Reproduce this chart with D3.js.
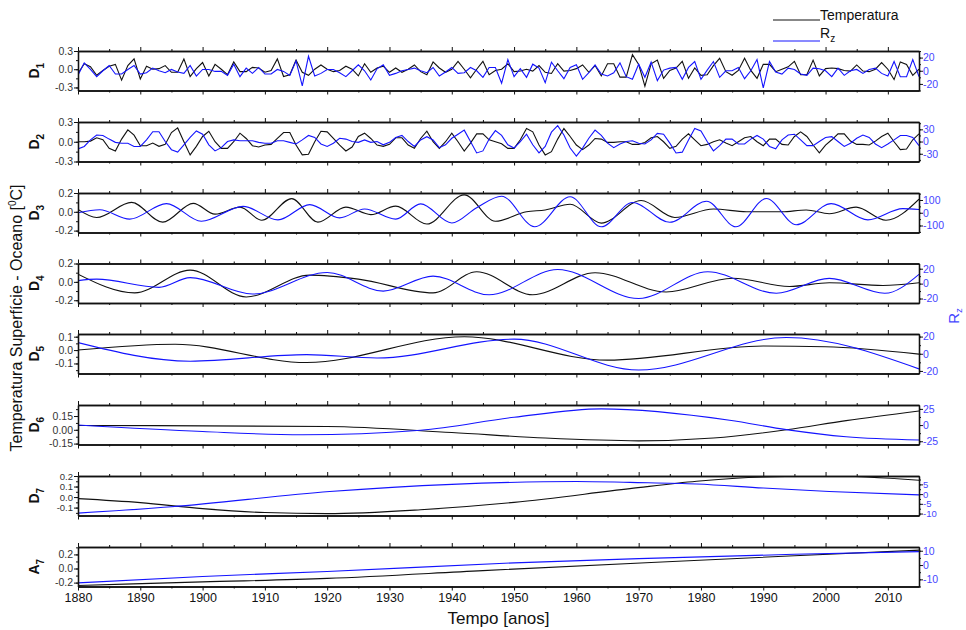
<!DOCTYPE html>
<html><head><meta charset="utf-8">
<script src="https://cdn.jsdelivr.net/npm/d3@7"></script>
<style>body{margin:0;background:#fff;} svg{display:block;font-family:"Liberation Sans",Arial,sans-serif;}</style>
</head><body><svg id="c" width="966" height="630"></svg>
<script>
// ---------- DATA ----------
const years = d3.range(1880, 2016);
const xTicks = [1880,1890,1900,1910,1920,1930,1940,1950,1960,1970,1980,1990,2000,2010];

const d1Temp = [-0.07,0.09,0.04,-0.10,-0.02,0.05,0.08,-0.18,0.06,0.17,
-0.16,0.05,0.0,0.01,0.06,-0.05,-0.05,0.17,-0.12,0.01,
0.11,-0.11,0.08,0.0,-0.09,0.12,-0.04,-0.04,0.03,0.02,
-0.05,-0.02,0.17,-0.12,-0.09,0.15,-0.05,-0.10,0.0,0.07,
0.0,-0.04,-0.02,0.05,0.0,-0.11,0.09,-0.05,0.02,0.05,
-0.05,0.02,-0.05,0.0,0.07,-0.04,-0.09,0.12,0.02,-0.05,
0.0,0.13,0.0,-0.14,0.0,0.13,-0.09,-0.02,0.0,0.09,
-0.04,-0.03,0.0,-0.03,0.06,-0.05,-0.07,0.09,-0.03,-0.02,
0.01,0.07,-0.05,0.06,-0.11,0.09,0.09,-0.13,-0.13,0.24,
0.08,-0.28,0.09,0.15,-0.15,-0.02,0.02,0.13,-0.15,0.02,
-0.10,-0.09,0.06,0.18,-0.04,-0.10,-0.02,0.18,-0.02,-0.15,
0.08,0.08,-0.04,0.0,0.04,0.13,-0.09,-0.09,0.15,-0.11,
0.01,0.02,0.01,-0.02,-0.03,0.07,-0.03,-0.04,0.0,0.11,
0.0,-0.17,0.12,0.08,-0.10,0.0];
const d1Rz = [-7,12,2,-9,0,8,-5,-5,2,8,
-5,-3,4,0,-3,2,-2,-4,8,-8,
2,2,-1,-1,-7,10,-9,4,-4,5,
-5,-5,2,-1,-7,15,-23,22,-8,-4,
2,2,-3,-9,0,9,0,-14,3,9,
-7,-4,0,2,4,0,-3,5,-8,-2,
5,-4,-3,5,0,-10,5,5,-19,17,
-9,3,-10,10,4,-18,13,0,-12,5,
9,-13,-3,9,-5,-8,-3,12,-9,-13,
10,-10,13,-15,1,4,5,-13,5,14,
-13,1,14,-10,0,0,5,-12,0,17,
-26,14,-2,-5,4,2,-5,-7,4,3,
0,-9,4,-7,0,2,-4,2,4,-4,
-8,14,-9,-9,17,-9];
const d2Temp = [0,0,0.01,0.06,0.03,-0.1,-0.14,0.04,0.18,0.1,
-0.06,-0.06,-0.02,-0.07,-0.04,0.14,0.21,0,-0.2,-0.07,
0.08,0.16,0,-0.1,-0.1,0,0.13,0.05,-0.06,-0.08,
-0.05,-0.04,0.05,0.14,0.14,-0.05,-0.2,-0.19,0,0.16,
0.15,0.05,-0.05,-0.14,-0.08,0.08,0.13,0.05,-0.05,-0.07,
-0.04,0.06,0.06,-0.05,-0.1,0.05,0.16,0,-0.1,0,
0.13,0,-0.14,-0.02,0.12,0.12,0.03,0,-0.03,-0.1,
-0.1,0.03,0.2,0.15,-0.05,-0.2,-0.15,0.04,0.2,0.08,
-0.05,-0.12,-0.05,0.05,0.04,-0.01,-0.01,0,0,-0.04,
-0.04,-0.01,0.06,0.08,0,-0.1,-0.07,0.04,0.12,0.03,
-0.06,-0.04,0,0.03,-0.02,-0.06,0,0.06,0.08,0,
-0.06,0.04,0.04,-0.04,-0.05,0.08,0.15,0.08,-0.05,-0.17,
-0.05,0.03,0.12,0.12,0.01,-0.04,-0.04,-0.05,0.01,0.08,
0.13,0,-0.12,-0.11,0.03,0.12];
const d2Rz = [-18,-12,4,16,15,6,-2,-4,-4,-12,
-12,4,24,24,0,-20,-26,-8,10,26,
18,-8,-23,-15,0,4,2,2,2,-2,
-4,-4,2,2,-2,-6,4,15,10,-6,
-12,-4,8,6,0,-2,4,-2,0,-8,
-2,10,15,0,-12,4,12,4,-15,-8,
8,18,28,0,-28,-23,6,27,15,-8,
-16,0,18,-8,-28,-12,23,39,16,-16,
-36,-16,8,28,15,-4,-15,-6,0,2,
-4,-6,4,20,18,-4,-28,-26,4,32,
26,0,-23,-10,6,6,-6,-6,6,15,
6,-12,-18,4,16,18,4,-10,-10,0,
10,12,0,-12,-4,8,16,10,-6,-15,
-6,4,15,15,10,-10];

// smooth components: key points (year, value)
const d3TempYears = [1880,1883,1888.6,1893.6,1898.5,1902,1906,1909.5,1914.3,1918.5,1923,1927,1931,1936,1942,1947,1952,1955,1959,1964,1970.4,1975.8,1982,1987.3,1993,1996.9,2000.6,2004.9,2009.7,2015];
const d3TempVals  = [0.026,-0.06,0.1,-0.11,0.09,-0.025,0.05,-0.09,0.14,-0.11,0.05,-0.03,0.06,-0.13,0.18,-0.1,0.0,0.02,0.08,-0.12,0.12,-0.06,0.03,0,0,0.02,-0.02,0.05,-0.09,0.135];
const d3RzYears = [1880,1883.5,1888.3,1894.2,1899.8,1906.5,1912.1,1917.2,1922,1926,1931,1935,1940,1944,1948,1953.3,1959,1964,1969,1975,1980.9,1985.6,1990.5,1995.3,2000.9,2006.8,2012.4,2015];
const d3RzVals  = [0,24,-50,72,-67,50,-56,64,-40,30,-50,70,-80,40,130,-110,125,-110,80,-75,90,-110,112,-94,72,-56,32,25];

const d4TempYears = [1880,1889.1,1898,1907,1917.2,1925,1937,1944,1953,1963,1974.4,1985.1,1994.2,2000.6,2009.2,2015];
const d4TempVals  = [0.084,-0.12,0.128,-0.164,0.073,0.03,-0.12,0.11,-0.14,0.1,-0.11,0.04,-0.05,-0.01,-0.04,-0.01];
const d4RzYears = [1880,1883,1893,1898,1908,1920,1929,1937,1946,1957,1970,1981.1,1992.1,2000.6,2009.5,2015];
const d4RzVals  = [4,6,-5,8,-14,15,-10,10,-15,19,-20,16,-13,7,-13,12.5];

const d5TempYears = [1880,1895.6,1916.7,1942,1965,1990,2000,2015];
const d5TempVals  = [0,0.043,-0.093,0.1,-0.075,0.03,0.025,-0.03];
const d5RzYears = [1880,1898,1916.7,1928,1950,1970,1993.7,2015];
const d5RzVals  = [13,-8.7,-1,-5,17,-19,19,-17.6];

const d6TempYears = [1880,1920,1940,1955,1970,1982,1993.7,2003.3,2015];
const d6TempVals  = [0.047,0.036,-0.03,-0.09,-0.12,-0.09,0.0,0.1,0.205];
const d6RzYears = [1880,1900,1916,1935,1950,1964,1984.6,1993.7,2003.3,2015];
const d6RzVals  = [0,-10,-15,-8,12,25,7.5,-7,-18,-23];

const d7TempYears = [1880,1890,1900,1910,1920,1935,1950,1968.6,1979.3,1990,2000.6,2015];
const d7TempVals  = [-0.015,-0.053,-0.11,-0.147,-0.157,-0.12,-0.05,0.08,0.15,0.19,0.2,0.16];
const d7RzYears = [1880,1895,1920.4,1940,1960,1968.6,1979.3,1990,2000.6,2015];
const d7RzVals  = [-9.8,-6.5,1.3,5,6.5,6,5.2,3.1,1.3,-0.4];

const a7TempYears = [1880,1900,1920,1945,1972,1995,2015];
const a7TempVals  = [-0.24,-0.19,-0.14,-0.03,0.086,0.18,0.26];
const a7RzYears = [1880,1900,1920,1950,1970,1995,2015];
const a7RzVals  = [-12.5,-8,-4.5,1.5,4.5,7.5,9.4];

const panelNames = ["D","D","D","D","D","D","D","A"];
const panelSubs  = ["1","2","3","4","5","6","7","7"];
const leftTicks  = [[0.3,0,-0.3],[0.3,0,-0.3],[0.2,0,-0.2],[0.2,0,-0.2],[0.1,0,-0.1],[0.15,0,-0.15],[0.2,0.1,0,-0.1],[0.2,0,-0.2]];
const rightTicks = [[20,0,-20],[30,0,-30],[100,0,-100],[20,0,-20],[20,0,-20],[25,0,-25],[5,0,-5,-10],[10,0,-10]];

// ---------- LAYOUT ----------
const svg = d3.select("#c");
const X0 = 78, X1 = 919, PH = 39.5;
const tops = [51,122,193,263.5,334,405,476,547];
const leftDom  = [[-0.35,0.3],[-0.3,0.3],[-0.22,0.2],[-0.23,0.2],[-0.175,0.12],[-0.16,0.27],[-0.175,0.2],[-0.255,0.305]];
const rightDom = [[-30,30],[-49,48],[-155,155],[-26,27],[-23,23],[-30,31],[-11,9.3],[-15,12.6]];
const leftMinor = [0.15,0.15,0.1,0.1,0.05,0.075,0.05,0.1];
const rightMinor= [10,15,50,10,10,12.5,2.5,5];
const leftFmt = [".1f",".1f",".1f",".1f",".1f",".2f",".1f",".1f"];
const labelSize = [10.5,10.5,10.5,10.5,10.5,10.5,9.5,10.5];
const BLUE = "#1414ff", LBLUE = "#4646ff";

const x = d3.scaleLinear().domain([1880,2015]).range([X0,X1]);
const fmtHy = f => v => d3.format(f)(v).replace("\u2212","-");

const series = [
  {t: years.map((y,i)=>[y,d1Temp[i]]), r: years.map((y,i)=>[y,d1Rz[i]]), smooth:false},
  {t: years.map((y,i)=>[y,d2Temp[i]]), r: years.map((y,i)=>[y,d2Rz[i]]), smooth:false},
  {t: d3TempYears.map((y,i)=>[y,d3TempVals[i]]), r: d3RzYears.map((y,i)=>[y,d3RzVals[i]]), smooth:true},
  {t: d4TempYears.map((y,i)=>[y,d4TempVals[i]]), r: d4RzYears.map((y,i)=>[y,d4RzVals[i]]), smooth:true},
  {t: d5TempYears.map((y,i)=>[y,d5TempVals[i]]), r: d5RzYears.map((y,i)=>[y,d5RzVals[i]]), smooth:true},
  {t: d6TempYears.map((y,i)=>[y,d6TempVals[i]]), r: d6RzYears.map((y,i)=>[y,d6RzVals[i]]), smooth:true},
  {t: d7TempYears.map((y,i)=>[y,d7TempVals[i]]), r: d7RzYears.map((y,i)=>[y,d7RzVals[i]]), smooth:true},
  {t: a7TempYears.map((y,i)=>[y,a7TempVals[i]]), r: a7RzYears.map((y,i)=>[y,a7RzVals[i]]), smooth:true},
];

function minorVals(dom, step){
  const out=[]; const s=Math.ceil(dom[0]/step-1e-9);
  for(let k=s; k*step<=dom[1]+1e-9; k++) out.push(+(k*step).toFixed(6));
  return out;
}

tops.forEach((top,i)=>{
  const g = svg.append("g");
  const yL = d3.scaleLinear().domain(leftDom[i]).range([top+PH, top]);
  const yR = d3.scaleLinear().domain(rightDom[i]).range([top+PH, top]);
  const clipId = "clip"+i;
  svg.append("clipPath").attr("id",clipId).append("rect").attr("x",X0).attr("y",top).attr("width",X1-X0).attr("height",PH);
  const data = series[i];
  const curve = data.smooth ? d3.curveMonotoneX : d3.curveLinear;
  const lineT = d3.line().x(d=>x(d[0])).y(d=>yL(d[1])).curve(curve);
  const lineR = d3.line().x(d=>x(d[0])).y(d=>yR(d[1])).curve(curve);
  const lg = g.append("g").attr("clip-path",`url(#${clipId})`);
  lg.append("path").attr("d",lineT(data.t)).attr("fill","none").attr("stroke","#111").attr("stroke-width",1.1);
  lg.append("path").attr("d",lineR(data.r)).attr("fill","none").attr("stroke",BLUE).attr("stroke-width",1.1);

  // x axes top & bottom
  const minorYears = d3.range(1885,2015,10);
  const axT = g.append("g").attr("transform",`translate(0,${top})`)
     .call(d3.axisTop(x).tickValues(xTicks).tickSize(4).tickSizeOuter(0).tickFormat(""));
  const axTm = g.append("g").attr("transform",`translate(0,${top})`)
     .call(d3.axisTop(x).tickValues(minorYears).tickSize(2).tickSizeOuter(0).tickFormat(""));
  const axB = g.append("g").attr("transform",`translate(0,${top+PH})`)
     .call(d3.axisBottom(x).tickValues(xTicks).tickSize(4).tickSizeOuter(0).tickFormat(i===7? d3.format("d") : ""));
  const axBm = g.append("g").attr("transform",`translate(0,${top+PH})`)
     .call(d3.axisBottom(x).tickValues(minorYears).tickSize(2).tickSizeOuter(0).tickFormat(""));
  axB.selectAll("text").attr("font-size",12.5).attr("fill","#111").attr("y",6).attr("dy","0.75em").attr("font-family","Liberation Sans, Arial, sans-serif");
  [axT,axTm,axB,axBm].forEach(a=>{a.select(".domain").attr("stroke","#111").attr("stroke-width",1.3); a.selectAll("line").attr("stroke","#111").attr("stroke-width",1);});

  // left axis
  const axL = g.append("g").attr("transform",`translate(${X0},0)`)
     .call(d3.axisLeft(yL).tickValues(leftTicks[i]).tickSize(4).tickSizeOuter(0).tickFormat(fmtHy(leftFmt[i])));
  const axLm = g.append("g").attr("transform",`translate(${X0},0)`)
     .call(d3.axisLeft(yL).tickValues(minorVals(leftDom[i],leftMinor[i])).tickSize(2).tickSizeOuter(0).tickFormat(""));
  axL.selectAll("text").attr("font-size",labelSize[i]).attr("fill","#333").attr("x",-5).attr("font-family","Liberation Sans, Arial, sans-serif");
  [axL,axLm].forEach(a=>{a.select(".domain").attr("stroke","#111").attr("stroke-width",1.3); a.selectAll("line").attr("stroke","#111");});

  // right axis
  const axR = g.append("g").attr("transform",`translate(${X1},0)`)
     .call(d3.axisRight(yR).tickValues(rightTicks[i]).tickSize(4).tickSizeOuter(0).tickFormat(fmtHy("d")));
  const axRm = g.append("g").attr("transform",`translate(${X1},0)`)
     .call(d3.axisRight(yR).tickValues(minorVals(rightDom[i],rightMinor[i])).tickSize(2).tickSizeOuter(0).tickFormat(""));
  axR.selectAll("text").attr("font-size",labelSize[i]).attr("fill",LBLUE).attr("x",4).attr("font-family","Liberation Sans, Arial, sans-serif");
  [axR,axRm].forEach(a=>{a.select(".domain").attr("stroke","#111").attr("stroke-width",1.3); a.selectAll("line").attr("stroke","#111");});

  // panel label
  const cy = top + PH/2;
  const lbl = svg.append("text").attr("transform",`translate(39,${cy}) rotate(-90)`)
     .attr("text-anchor","middle").attr("font-weight","bold").attr("font-size",14).attr("fill","#111");
  lbl.append("tspan").text(panelNames[i]);
  lbl.append("tspan").attr("font-size",10).attr("dy",5).text(panelSubs[i]);
});

// y titles
const yt = svg.append("text").attr("transform","translate(22,318) rotate(-90)")
  .attr("text-anchor","middle").attr("font-size",16).attr("fill","#111");
yt.append("tspan").text("Temperatura Superfície - Oceano [");
yt.append("tspan").attr("font-size",10).attr("dy",-6).text("0");
yt.append("tspan").attr("dy",6).text("C]");

const rt = svg.append("text").attr("transform","translate(959,316) rotate(-90)")
  .attr("text-anchor","middle").attr("font-size",15).attr("fill",LBLUE);
rt.append("tspan").text("R");
rt.append("tspan").attr("font-size",9).attr("dy",3).text("z");

// x title
svg.append("text").attr("x",(X0+X1)/2).attr("y",624).attr("text-anchor","middle")
  .attr("font-size",17).attr("fill","#111").text("Tempo [anos]");

// legend
const legend = svg.append("g");
legend.append("line").attr("x1",773).attr("x2",820).attr("y1",20).attr("y2",20).attr("stroke","#111").attr("stroke-width",1);
legend.append("text").attr("x",820).attr("y",20).attr("font-size",14).attr("fill","#111").text("Temperatura");
legend.append("line").attr("x1",773).attr("x2",820).attr("y1",41).attr("y2",41).attr("stroke",BLUE).attr("stroke-width",1);
const lr = legend.append("text").attr("x",820).attr("y",38).attr("font-size",14).attr("fill","#111");
lr.append("tspan").text("R");
lr.append("tspan").attr("font-size",10).attr("dy",4).text("z");
</script></body></html>
